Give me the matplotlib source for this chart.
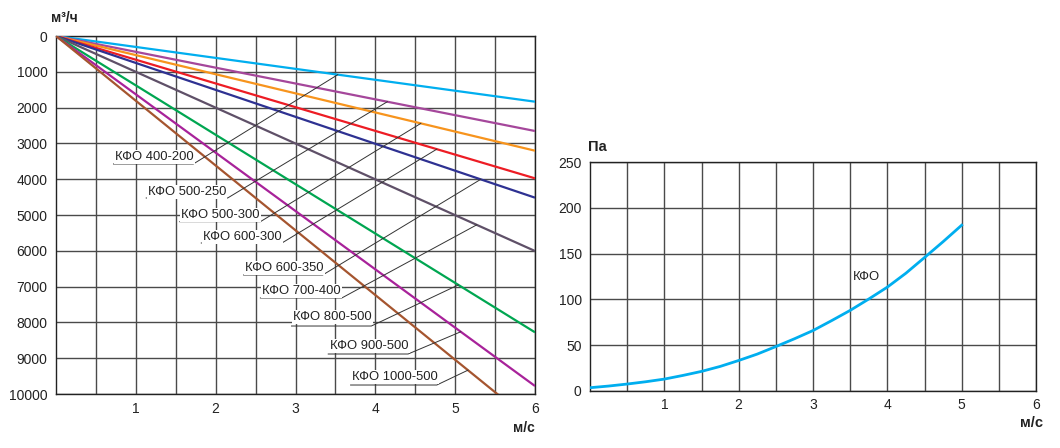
import matplotlib
matplotlib.use("Agg")
import matplotlib.pyplot as plt
import numpy as np

plt.rcParams['font.family'] = ['Liberation Sans', 'DejaVu Sans']

# ---- Left chart data: flow (m3/h) vs velocity (m/s) ----
models = ["КФО 400-200", "КФО 500-250", "КФО 500-300", "КФО 600-300", "КФО 600-350",
          "КФО 700-400", "КФО 800-500", "КФО 900-500", "КФО 1000-500"]
line_colors = ["#00AEEF", "#A5479B", "#F7941D", "#ED1C24", "#2E3192",
               "#5F5068", "#00A651", "#A8229A", "#A5552F"]
velocity_pts = [0, 6]
flow_end = [1835, 2654, 3204, 3976, 4516, 6006, 8277, 9777, 10854]

# label layout (velocity / flow coordinates)
lab_x = [0.74, 1.15, 1.57, 1.84, 2.37, 2.58, 2.97, 3.43, 3.71]
lab_y = [3380, 4358, 5000, 5615, 6480, 7123, 7849, 8659, 9525]
ul_right = [1.72, 2.15, 2.56, 2.83, 3.34, 3.58, 3.95, 4.41, 4.77]
ul_y = [3575, 4525, 5187, 5782, 6676, 7318, 8101, 8883, 9749]
target_v = [3.53, 4.15, 4.57, 4.77, 5.32, 5.27, 5.04, 5.07, 5.16]

# ---- Right chart data: pressure drop (Pa) vs velocity (m/s) ----
v_pa = [0, 0.25, 0.5, 0.75, 1, 1.25, 1.5, 1.75, 2, 2.25, 2.5,
        2.75, 3, 3.25, 3.5, 3.75, 4, 4.25, 4.5, 4.75, 5]
pa = [3.6, 5.4, 7.6, 10.1, 13.0, 17.0, 21.4, 26.8, 33.3, 40.3, 48.5,
      57.0, 66.0, 76.8, 88.0, 100.4, 113.4, 128.6, 145.7, 163.0, 181.0]

fig = plt.figure(figsize=(10.6, 4.48), dpi=100)

grid_kw = dict(color="#4a4a4a", linewidth=1.0)

# ---------- Left axes ----------
ax1 = fig.add_axes([56/1060, 1-394/448, 479/1060, 358/448])
ax1.set_xlim(0, 6)
ax1.set_ylim(10000, 0)
ax1.set_xticks(np.arange(1, 7, 1))
ax1.set_xticks(np.arange(0.5, 6, 1), minor=True)
ax1.set_yticks(np.arange(0, 10001, 1000))
ax1.grid(True, which='both', axis='x', **grid_kw)
ax1.grid(True, which='major', axis='y', **grid_kw)
ax1.tick_params(which='both', length=0, labelsize=10, colors='#222222')
ax1.tick_params(axis='x', pad=6)
ax1.tick_params(axis='y', pad=6)
for s in ax1.spines.values():
    s.set_color('#222222')
    s.set_linewidth(1.0)
ax1.set_axisbelow(True)

for fe, c in zip(flow_end, line_colors):
    ax1.plot(velocity_pts, [0, fe], color=c, linewidth=1.6, zorder=3, solid_capstyle='butt')

for i, name in enumerate(models):
    ty = flow_end[i] * target_v[i] / velocity_pts[-1]
    ax1.plot([lab_x[i] - 0.02, ul_right[i], target_v[i]], [ul_y[i], ul_y[i], ty],
             color="#333333", linewidth=0.7, zorder=4)
    ax1.text(lab_x[i], lab_y[i], name, fontsize=9.4, ha='left', va='center', color='#222222',
             zorder=5, bbox=dict(facecolor='white', edgecolor='none', pad=0.8))

fig.text(51/1060, 1-18/448, "м³/ч", fontsize=10, fontweight='bold', ha='left', va='center',
         color='#222222')
fig.text(535/1060, 1-428/448, "м/с", fontsize=10, fontweight='bold', ha='right', va='center',
         color='#222222')

# ---------- Right axes ----------
ax2 = fig.add_axes([590/1060, 1-391/448, 446/1060, 229/448])
ax2.set_xlim(0, 6)
ax2.set_ylim(0, 250)
ax2.set_xticks(np.arange(1, 7, 1))
ax2.set_xticks(np.arange(0.5, 6, 1), minor=True)
ax2.set_yticks(np.arange(0, 251, 50))
ax2.grid(True, which='both', axis='x', **grid_kw)
ax2.grid(True, which='major', axis='y', **grid_kw)
ax2.tick_params(which='both', length=0, labelsize=10, colors='#222222')
ax2.tick_params(axis='x', pad=5)
ax2.tick_params(axis='y', pad=6)
for s in ax2.spines.values():
    s.set_color('#222222')
    s.set_linewidth(1.0)
ax2.set_axisbelow(True)
ax2.plot(v_pa, pa, color="#00AEEF", linewidth=2.0, zorder=3)
ax2.text(3.54, 125, "КФО", fontsize=9.4, ha='left', va='center', color='#222222', zorder=5)

fig.text(588/1060, 1-147/448, "Па", fontsize=10.5, fontweight='bold', ha='left', va='center',
         color='#222222')
fig.text(1043/1060, 1-423/448, "м/с", fontsize=10.5, fontweight='bold', ha='right', va='center',
         color='#222222')

fig.savefig("out.png", dpi=100, facecolor='white')
